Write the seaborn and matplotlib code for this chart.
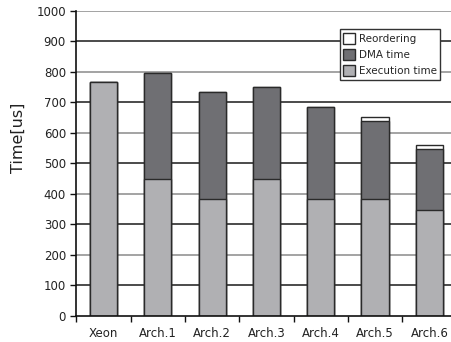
import numpy as np
import pandas as pd
import matplotlib
matplotlib.use("Agg")
import matplotlib.pyplot as plt
import seaborn as sns
from matplotlib.patches import Patch

categories = ["Xeon", "Arch.1", "Arch.2", "Arch.3", "Arch.4", "Arch.5", "Arch.6"]
execution_time = [767, 447, 384, 447, 384, 384, 347]
dma_time = [0, 349, 348, 302, 300, 253, 200]
reordering = [0, 0, 0, 0, 0, 13, 13]
y_ticks = [0, 100, 200, 300, 400, 500, 600, 700, 800, 900, 1000]

exec_c = "#b0b0b3"
dma_c = "#6f6f73"
reo_c = "#ffffff"
edge_c = "#2a2a2a"

sns.set_style("white")
plt.rcParams["font.family"] = ["DejaVu Sans"]

df = pd.DataFrame({
    "cat": categories,
    "exec": execution_time,
    "dma": np.add(execution_time, dma_time),
    "total": np.add(np.add(execution_time, dma_time), reordering),
})

fig = plt.figure(figsize=(4.52, 3.42), dpi=100)
ax = fig.add_axes([0.169, 0.077, 0.841, 0.892])

# alternating grid lines behind the bars
for v in y_ticks[1:]:
    ax.axhline(v, color="#8a8a8a" if v % 200 == 0 else "#1a1a1a",
               lw=1.1, zorder=0)

common = dict(x="cat", order=categories, width=0.5, edgecolor=edge_c,
              linewidth=1.0, ax=ax, zorder=2)
sns.barplot(data=df, y="total", color=reo_c, saturation=1, **common)
sns.barplot(data=df, y="dma", color=dma_c, saturation=1, **common)
sns.barplot(data=df, y="exec", color=exec_c, saturation=1, **common)

ax.set_xlim(-0.5, 6.5)
ax.set_ylim(0, 1000)
ax.set_yticks(y_ticks)
ax.set_xlabel("")
ax.set_ylabel("Time[us]", fontsize=11.5, color="#222222")
ax.yaxis.set_label_coords(-0.134, 0.583)

sns.despine(ax=ax, top=True, right=True)
for s in ("left", "bottom"):
    ax.spines[s].set_color("#111111")
    ax.spines[s].set_linewidth(1.2)

ax.set_xticks(np.arange(-0.5, 7, 1.0), minor=True)
ax.tick_params(axis="x", which="major", length=0, labelsize=8.5,
               colors="#222222", pad=8)
ax.tick_params(axis="x", which="minor", length=4, width=1.0,
               direction="out", color="#111111", bottom=True)
ax.tick_params(axis="y", length=4, width=1.0, direction="out",
               color="#111111", labelsize=8.5, labelcolor="#222222", left=True)

handles = [Patch(facecolor=reo_c, edgecolor=edge_c, label="Reordering"),
           Patch(facecolor=dma_c, edgecolor=edge_c, label="DMA time"),
           Patch(facecolor=exec_c, edgecolor=edge_c, label="Execution time")]
leg = ax.legend(handles=handles, loc="upper right",
                bbox_to_anchor=(0.957, 0.94), fontsize=7.5, frameon=True,
                fancybox=False, edgecolor="#333333", framealpha=1,
                handlelength=1.1, handleheight=1.3, handletextpad=0.35,
                labelspacing=0.45, borderpad=0.35, borderaxespad=0)
leg.get_frame().set_linewidth(1.0)
leg.set_zorder(5)

fig.savefig("out.png", dpi=100)
